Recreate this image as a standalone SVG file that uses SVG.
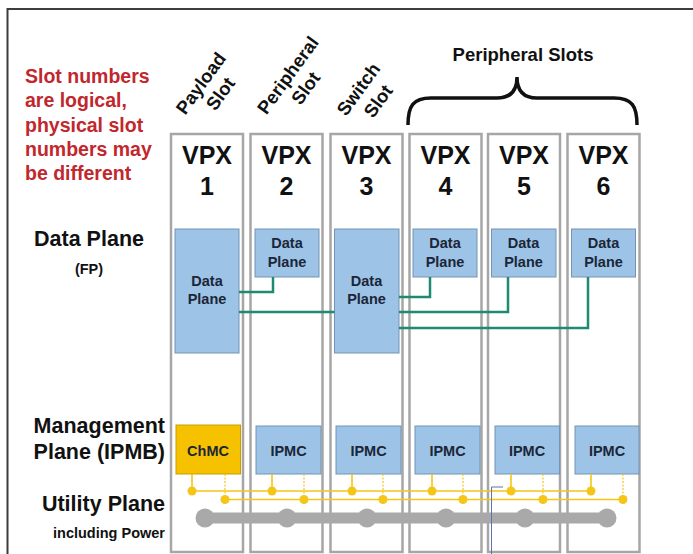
<svg xmlns="http://www.w3.org/2000/svg" width="693" height="554" viewBox="0 0 693 554">
<style>
text{font-family:"Liberation Sans",Arial,sans-serif;font-weight:bold}
.red{fill:#c1272d;font-size:19.5px}
.lbl{fill:#111;font-size:21.5px}
.small{fill:#111;font-size:14.5px}
.rot{fill:#111;font-size:18.5px;text-anchor:middle}
.slot{fill:#fff;stroke:#a6a6a6;stroke-width:2.5}
.vpx{fill:#111;font-size:25px;text-anchor:middle}
.dp{fill:#9dc3e6;stroke:#7394b6;stroke-width:1}
.dpt{fill:#1b2638;font-size:14.5px;text-anchor:middle}
.mc{fill:#9dc3e6;stroke:#7394b6;stroke-width:1}
.ch{fill:#f6c200;stroke:#c99d00;stroke-width:1}
.mct{fill:#1b2638;font-size:14.5px;text-anchor:middle}
.teal{fill:none;stroke:#1f8a72;stroke-width:2.5}
.yl{fill:none;stroke:#f5c518;stroke-width:1.6}
.yd{fill:none;stroke:#f5c518;stroke-width:1.2;stroke-dasharray:2 1.5}
.yc{fill:#f5c518}
.bus{fill:none;stroke:#a9a9a9;stroke-width:11}
.bc{fill:#a9a9a9}
</style>

<g id="frame">
  <path d="M7.5,554 V9 H693" fill="none" stroke="#3d3d3d" stroke-width="2"/>
</g>

<g id="note">
  <text class="red" x="25" y="83">Slot numbers</text>
  <text class="red" x="25" y="107">are logical,</text>
  <text class="red" x="25" y="131.5">physical slot</text>
  <text class="red" x="25" y="156">numbers may</text>
  <text class="red" x="25" y="180">be different</text>
</g>

<g id="row-labels">
  <text class="lbl" x="89" y="246" text-anchor="middle">Data Plane</text>
  <text class="small" x="89" y="274" text-anchor="middle" font-size="13px">(FP)</text>
  <text class="lbl" x="165" y="433" text-anchor="end">Management</text>
  <text class="lbl" x="165" y="459" text-anchor="end">Plane (IPMB)</text>
  <text class="lbl" x="165" y="511" text-anchor="end">Utility Plane</text>
  <text class="small" x="165" y="538" text-anchor="end">including Power</text>
</g>

<g id="slot-type-labels">
  <g transform="translate(206,87) rotate(-54)">
    <text class="rot" x="0" y="0">Payload</text>
    <text class="rot" x="3" y="22">Slot</text>
  </g>
  <g transform="translate(293,79) rotate(-54)">
    <text class="rot" x="0" y="0">Peripheral</text>
    <text class="rot" x="0" y="22">Slot</text>
  </g>
  <g transform="translate(363.5,93) rotate(-54)">
    <text class="rot" x="0" y="0">Switch</text>
    <text class="rot" x="2" y="23">Slot</text>
  </g>
  <text class="rot" x="523" y="61" font-size="19px">Peripheral Slots</text>
  <path d="M408,125 C408,106 413,98 431,98 H497 C511,98 517,90 517,77 C517,90 523,98 537,98 H614 C632,98 637,106 637,125" fill="none" stroke="#111" stroke-width="3.5"/>
</g>

<g id="slot-1"><rect class="slot" x="171" y="134" width="72" height="418"/><text class="vpx" x="207" y="163.5">VPX</text><text class="vpx" x="207" y="195">1</text></g>
<g id="slot-2"><rect class="slot" x="250.5" y="134" width="72" height="418"/><text class="vpx" x="286.5" y="163.5">VPX</text><text class="vpx" x="286.5" y="195">2</text></g>
<g id="slot-3"><rect class="slot" x="330.5" y="134" width="72" height="418"/><text class="vpx" x="366.5" y="163.5">VPX</text><text class="vpx" x="366.5" y="195">3</text></g>
<g id="slot-4"><rect class="slot" x="409.5" y="134" width="72" height="418"/><text class="vpx" x="445.5" y="163.5">VPX</text><text class="vpx" x="445.5" y="195">4</text></g>
<g id="slot-5"><rect class="slot" x="488" y="134" width="72" height="418"/><text class="vpx" x="524" y="163.5">VPX</text><text class="vpx" x="524" y="195">5</text></g>
<g id="slot-6"><rect class="slot" x="567.5" y="134" width="72" height="418"/><text class="vpx" x="603.5" y="163.5">VPX</text><text class="vpx" x="603.5" y="195">6</text></g>

<g id="dp-1"><rect class="dp" x="175" y="229" width="64" height="124"/><text class="dpt" x="207" y="286">Data</text><text class="dpt" x="207" y="304">Plane</text></g>
<g id="dp-2"><rect class="dp" x="255" y="229" width="64" height="48"/><text class="dpt" x="287" y="248">Data</text><text class="dpt" x="287" y="267">Plane</text></g>
<g id="dp-3"><rect class="dp" x="334.5" y="229" width="64.5" height="124"/><text class="dpt" x="366.5" y="286">Data</text><text class="dpt" x="366.5" y="304">Plane</text></g>
<g id="dp-4"><rect class="dp" x="413" y="229" width="64" height="48"/><text class="dpt" x="445" y="248">Data</text><text class="dpt" x="445" y="267">Plane</text></g>
<g id="dp-5"><rect class="dp" x="491.5" y="229" width="64.5" height="48"/><text class="dpt" x="523.5" y="248">Data</text><text class="dpt" x="523.5" y="267">Plane</text></g>
<g id="dp-6"><rect class="dp" x="571.5" y="229" width="64" height="48"/><text class="dpt" x="603.5" y="248">Data</text><text class="dpt" x="603.5" y="267">Plane</text></g>

<g id="mc-1"><rect class="ch" x="176" y="425" width="64.5" height="49"/><text class="mct" x="208" y="455.5" font-size="15px">ChMC</text></g>
<g id="mc-2"><rect class="mc" x="256" y="426" width="65" height="48"/><text class="mct" x="288.5" y="455.5">IPMC</text></g>
<g id="mc-3"><rect class="mc" x="336" y="426" width="65" height="48"/><text class="mct" x="368.5" y="455.5">IPMC</text></g>
<g id="mc-4"><rect class="mc" x="415" y="426" width="65" height="48"/><text class="mct" x="447.5" y="455.5">IPMC</text></g>
<g id="mc-5"><rect class="mc" x="495" y="426" width="64.5" height="48"/><text class="mct" x="527" y="455.5">IPMC</text></g>
<g id="mc-6"><rect class="mc" x="575" y="426" width="64" height="48"/><text class="mct" x="607" y="455.5">IPMC</text></g>

<g id="connectors">
  <path class="teal" d="M239,292 H273 V277"/>
  <path class="teal" d="M239,312 H334.5"/>
  <path class="teal" d="M399,297 H430 V277"/>
  <path class="teal" d="M399,312 H508 V277"/>
  <path class="teal" d="M399,328 H588 V277"/>

  <path class="yl" d="M190,491 H591"/>
  <path class="yl" d="M222,499.5 H623"/>
  <path class="yl" d="M192,474 V491 M272,474 V491 M352,474 V491 M432,474 V491 M511,474 V491 M591,474 V491"/>
  <path class="yd" d="M225,474 V499.5 M304,474 V499.5 M383,474 V499.5 M463,474 V499.5 M543,474 V499.5 M623,474 V499.5"/>
  <g class="yc">
    <circle cx="192" cy="491" r="4.5"/><circle cx="272" cy="491" r="4.5"/><circle cx="352" cy="491" r="4.5"/><circle cx="432" cy="491" r="4.5"/><circle cx="511" cy="491" r="4.5"/><circle cx="591" cy="491" r="4.5"/>
    <circle cx="225" cy="499.5" r="4.5"/><circle cx="304" cy="499.5" r="4.5"/><circle cx="383" cy="499.5" r="4.5"/><circle cx="463" cy="499.5" r="4.5"/><circle cx="543" cy="499.5" r="4.5"/><circle cx="623" cy="499.5" r="4.5"/>
  </g>

  <path class="bus" d="M205,518 H607"/>
  <g class="bc">
    <circle cx="205" cy="518" r="9.5"/><circle cx="287" cy="518" r="9.5"/><circle cx="367" cy="518" r="9.5"/><circle cx="446" cy="518" r="9.5"/><circle cx="525" cy="518" r="9.5"/><circle cx="607" cy="518" r="9.5"/>
  </g>
</g>

<path d="M491.5,554 V487 H503" fill="none" stroke="#5f73a8" stroke-width="1"/>
</svg>
